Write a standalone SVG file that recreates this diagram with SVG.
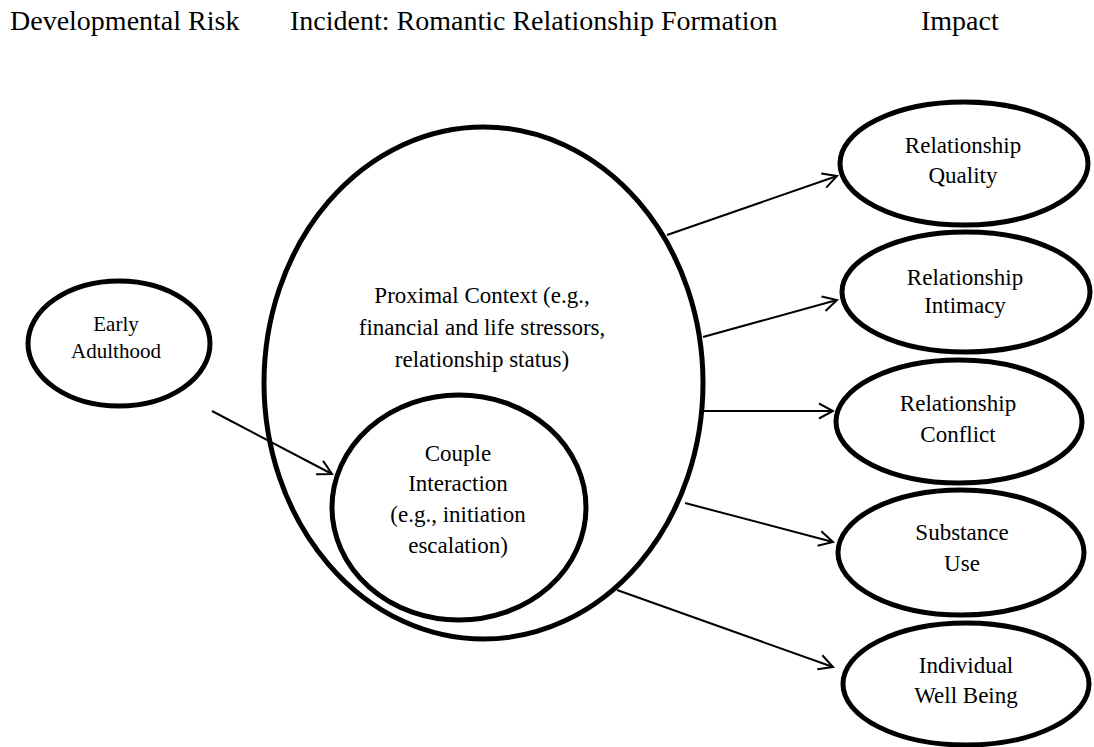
<svg xmlns="http://www.w3.org/2000/svg" width="1094" height="747" viewBox="0 0 1094 747">
<defs>
<style>
.hdr{font-family:"Liberation Serif","Times New Roman",serif;font-size:28px;fill:#000}
.lbl{font-family:"Liberation Serif","Times New Roman",serif;font-size:23px;fill:#000;text-anchor:middle}
.sm{font-size:21px}
.node{fill:#fff;stroke:#000;stroke-width:5}
.edge{stroke:#000;stroke-width:2;fill:none;marker-end:url(#ah)}
</style>
<marker id="ah" viewBox="0 0 18 18" refX="16" refY="9" markerWidth="18" markerHeight="18" markerUnits="userSpaceOnUse" orient="auto">
<path d="M2,1.5 L16,9 L2,16.5" fill="none" stroke="#000" stroke-width="2"/>
</marker>
</defs>
<rect width="1094" height="747" fill="#fff"/>
<g id="headers">
<text class="hdr" x="10" y="30">Developmental Risk</text>
<text class="hdr" x="290" y="30">Incident: Romantic Relationship Formation</text>
<text class="hdr" x="921" y="30">Impact</text>
</g>
<g id="proximal">
<ellipse class="node" cx="483.5" cy="383" rx="219.5" ry="256"/>
<text class="lbl"><tspan x="482" y="303">Proximal Context (e.g.,</tspan><tspan x="482" y="335">financial and life stressors,</tspan><tspan x="482" y="367">relationship status)</tspan></text>
</g>
<g id="couple">
<ellipse class="node" cx="459" cy="507.5" rx="127" ry="112.5"/>
<text class="lbl"><tspan x="458" y="461">Couple</tspan><tspan x="458" y="491">Interaction</tspan><tspan x="458" y="522">(e.g., initiation</tspan><tspan x="458" y="553">escalation)</tspan></text>
</g>
<g id="early">
<ellipse class="node" cx="119" cy="343.5" rx="91" ry="62.5"/>
<text class="lbl sm"><tspan x="116" y="331">Early</tspan><tspan x="116" y="358">Adulthood</tspan></text>
</g>
<g id="quality">
<ellipse class="node" cx="964" cy="163.5" rx="124" ry="61.5"/>
<text class="lbl"><tspan x="963" y="153">Relationship</tspan><tspan x="963" y="183">Quality</tspan></text>
</g>
<g id="intimacy">
<ellipse class="node" cx="966" cy="292" rx="124" ry="60"/>
<text class="lbl"><tspan x="965" y="285">Relationship</tspan><tspan x="965" y="313">Intimacy</tspan></text>
</g>
<g id="conflict">
<ellipse class="node" cx="959" cy="421.5" rx="123" ry="61.5"/>
<text class="lbl"><tspan x="958" y="411">Relationship</tspan><tspan x="958" y="442">Conflict</tspan></text>
</g>
<g id="substance">
<ellipse class="node" cx="961" cy="552.5" rx="123" ry="62.5"/>
<text class="lbl"><tspan x="962" y="540">Substance</tspan><tspan x="962" y="571">Use</tspan></text>
</g>
<g id="wellbeing">
<ellipse class="node" cx="966" cy="684" rx="123" ry="61"/>
<text class="lbl"><tspan x="966" y="673">Individual</tspan><tspan x="966" y="703">Well Being</tspan></text>
</g>
<g id="connectors">
<line class="edge" x1="212" y1="411" x2="332" y2="474"/>
<line class="edge" x1="667" y1="235" x2="837" y2="176"/>
<line class="edge" x1="703" y1="337" x2="837" y2="300"/>
<line class="edge" x1="703" y1="411" x2="833" y2="411"/>
<line class="edge" x1="685" y1="503" x2="833" y2="542"/>
<line class="edge" x1="617" y1="590" x2="833" y2="667"/>
</g>
</svg>
